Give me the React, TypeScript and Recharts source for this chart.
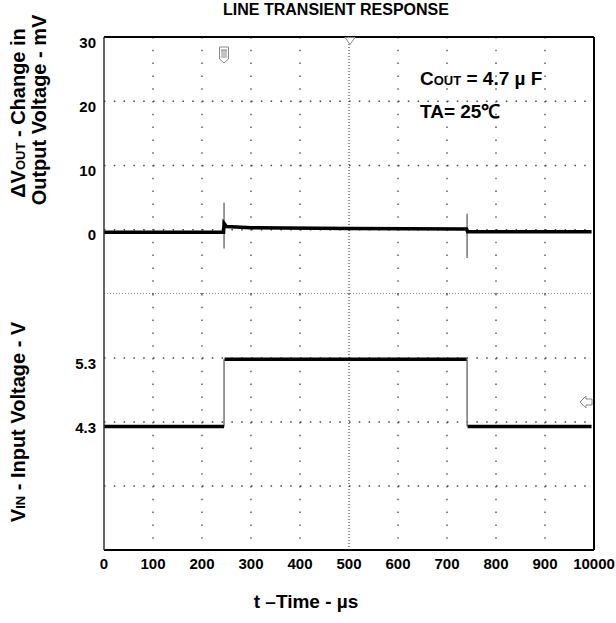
import { LineChart, Line, XAxis, YAxis, CartesianGrid, ReferenceLine } from "recharts";

// time axis (µs)
const timeTicks = [0, 100, 200, 300, 400, 500, 600, 700, 800, 900, 1000];
const timeTickLabels = ["0", "100", "200", "300", "400", "500", "600", "700", "800", "900", "10000"];

// upper channel: ΔVout (mV)
const outTicks = [0, 10, 20, 30];
const outGrid = [0, 10, 20];
const outTime = [0, 244, 245, 250, 300, 500, 740, 742, 995];
const outMv = [-0.4, -0.4, 1.0, 0.5, 0.3, 0.2, 0.1, -0.3, -0.3];
const outSpikeTime = [245, 245, 741, 741, 741];
const outSpikeMv = [4.2, -2.9, null, 2.5, -4.4];

// lower channel: Vin (V)
const inTicks = [4.3, 5.3];
const inGrid = [3.3, 4.3, 5.3];
const inTime = [0, 245, 245, 246, 740, 741, 742, 995];
const inVolt = [4.23, 4.23, null, 5.28, 5.28, null, 4.23, 4.23];
const inEdgeTime = [245, 245, 741, 741, 741];
const inEdgeVolt = [4.23, 5.28, null, 5.28, 4.23];

const zip = (t: number[], v: (number | null)[]) => t.map((x, i) => ({ t: x, v: v[i] }));

const font = "Arial, 'Liberation Sans', sans-serif";
const W = 616;

const YTick = (props: any) => (
  <text x={props.x - 8} y={props.y + 5} textAnchor="end" dominantBaseline="central"
    fontSize={15} fontWeight="bold" fontFamily={font} fill="#000">
    {props.payload.value}
  </text>
);

const XTick = (props: any) => (
  <text x={props.x} y={props.y + 13} textAnchor="middle" dominantBaseline="central"
    fontSize={15} fontWeight="bold" fontFamily={font} fill="#000">
    {timeTickLabels[timeTicks.indexOf(props.payload.value)]}
  </text>
);

const hDots = "1.5 8.3";
const vDots = "1.5 11.3";

export default function App() {
  return (
    <div style={{ position: "absolute", left: 0, top: 0, width: W, height: 623, background: "#fff", fontFamily: font }}>
      <div style={{ position: "absolute", left: 0, top: 0 }}>
        <LineChart width={W} height={294} margin={{ top: 37, right: 22, bottom: 0, left: 54 }}>
          <CartesianGrid horizontal={false} verticalValues={[100, 200, 300, 400, 600, 700, 800, 900]}
            stroke="#444" strokeDasharray={vDots} strokeWidth={1.3} />
          <CartesianGrid vertical={false} horizontalValues={outGrid}
            stroke="#444" strokeDasharray={hDots} strokeWidth={1.3} />
          <XAxis xAxisId={0} dataKey="t" type="number" domain={[0, 1000]} hide allowDataOverflow />
          <YAxis dataKey="v" type="number" domain={[-10, 30]} ticks={outTicks} width={50}
            tickSize={0} tickMargin={0} tickLine={false} tick={<YTick />}
            axisLine={{ stroke: "#333", strokeWidth: 1.5 }} allowDataOverflow />
          <ReferenceLine x={500} stroke="#222" strokeDasharray="1 2" />
          <ReferenceLine y={-10} stroke="#222" strokeDasharray="1 2" />
          <ReferenceLine y={30} stroke="#000" strokeWidth={2} />
          <ReferenceLine x={1000} stroke="#000" strokeWidth={2} />
          <Line data={zip(outSpikeTime, outSpikeMv)} dataKey="v" type="linear" stroke="#777"
            strokeWidth={1.5} dot={false} isAnimationActive={false} />
          <Line data={zip(outTime, outMv)} dataKey="v" type="linear" stroke="#000"
            strokeWidth={3.5} dot={false} isAnimationActive={false} />
        </LineChart>
      </div>
      <div style={{ position: "absolute", left: 0, top: 294 }}>
        <LineChart width={W} height={329} margin={{ top: 0, right: 22, bottom: 43, left: 54 }}>
          <CartesianGrid horizontal={false} verticalValues={[100, 200, 300, 400, 600, 700, 800, 900]}
            stroke="#444" strokeDasharray={vDots} strokeWidth={1.3} />
          <CartesianGrid vertical={false} horizontalValues={inGrid}
            stroke="#444" strokeDasharray={hDots} strokeWidth={1.3} />
          <XAxis dataKey="t" type="number" domain={[0, 1000]} ticks={timeTicks} height={30}
            tickSize={0} tickMargin={0} tickLine={false} tick={<XTick />}
            axisLine={{ stroke: "#000", strokeWidth: 2 }} allowDataOverflow />
          <YAxis dataKey="v" type="number" domain={[2.3, 6.3]} ticks={inTicks} width={50}
            tickSize={0} tickMargin={0} tickLine={false} tick={<YTick />}
            axisLine={{ stroke: "#333", strokeWidth: 1.5 }} allowDataOverflow />
          <ReferenceLine x={500} stroke="#222" strokeDasharray="1 2" />
          <ReferenceLine x={1000} stroke="#000" strokeWidth={2} />
          <Line data={zip(inEdgeTime, inEdgeVolt)} dataKey="v" type="linear" stroke="#777"
            strokeWidth={1.5} dot={false} isAnimationActive={false} />
          <Line data={zip(inTime, inVolt)} dataKey="v" type="linear" stroke="#000"
            strokeWidth={3.5} dot={false} isAnimationActive={false} />
        </LineChart>
      </div>
      <svg width={W} height={623} style={{ position: "absolute", left: 0, top: 0, pointerEvents: "none" }}
        fontFamily={font} fontWeight="bold">
        <text x={336} y={15} textAnchor="middle" fontSize={16}>LINE TRANSIENT RESPONSE</text>
        <g transform="translate(25,113) rotate(-90)">
          <text x={0} y={0} textAnchor="middle" fontSize={20}>
            ΔV<tspan fontSize={13}>OUT</tspan> - Change in
          </text>
        </g>
        <g transform="translate(46,110) rotate(-90)">
          <text x={0} y={0} textAnchor="middle" fontSize={20}>Output Voltage - mV</text>
        </g>
        <g transform="translate(25,422) rotate(-90)">
          <text x={0} y={0} textAnchor="middle" fontSize={20}>
            V<tspan fontSize={13}>IN</tspan> - Input Voltage - V
          </text>
        </g>
        <text x={420} y={85} fontSize={19}>
          C<tspan fontSize={13}>OUT</tspan> = 4.7 µ F
        </text>
        <text x={420} y={118} fontSize={19}>TA= 25℃</text>
        <text x={306} y={608} textAnchor="middle" fontSize={19}>t –Time - µs</text>
        <g stroke="#888" strokeWidth={1} fill="#fff">
          <path d="M219.5 47 h9 v12 l-4.5 4 l-4.5 -4 z" />
          <path d="M222 50 v8 M224 50 v8 M226 50 v8 M221 50 h6" />
          <path d="M345 37.5 h10 l-5 7 z" />
          <path d="M580 402 l6 -6 v3 h6 v6 h-6 v3 z" />
        </g>
      </svg>
    </div>
  );
}
